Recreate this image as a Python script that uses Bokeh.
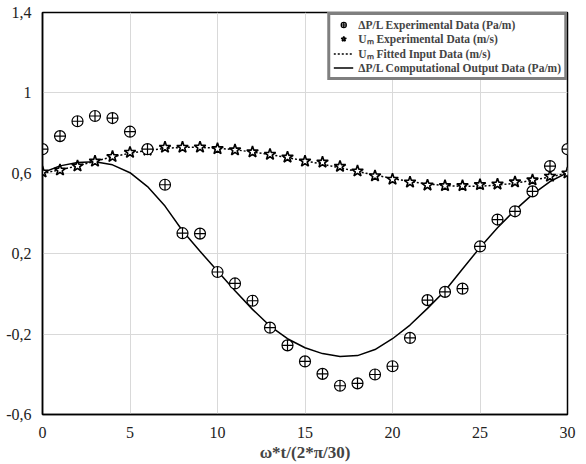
from bokeh.plotting import figure
from bokeh.models import FixedTicker, Legend, LegendItem, Range1d
from bokeh.embed import file_html
from bokeh.resources import INLINE

# ---- data ----
x_vals = list(range(0, 31))

dp_exp = [0.720, 0.785, 0.859, 0.885, 0.875, 0.807, 0.720, 0.543, 0.302, 0.300,
          0.109, 0.052, -0.034, -0.168, -0.256, -0.336, -0.398, -0.457, -0.445, -0.401,
          -0.360, -0.219, -0.031, 0.010, 0.026, 0.236, 0.370, 0.411, 0.510, 0.636, 0.720]

um_exp = [0.606, 0.616, 0.636, 0.660, 0.683, 0.704, 0.715, 0.729, 0.729, 0.730,
          0.722, 0.716, 0.706, 0.694, 0.680, 0.660, 0.655, 0.634, 0.611, 0.587,
          0.570, 0.556, 0.541, 0.538, 0.538, 0.543, 0.546, 0.557, 0.567, 0.585, 0.601]

um_fit = [0.600, 0.617, 0.637, 0.660, 0.682, 0.700, 0.714, 0.724, 0.729, 0.729,
          0.725, 0.717, 0.706, 0.693, 0.678, 0.662, 0.645, 0.627, 0.609, 0.591,
          0.574, 0.559, 0.547, 0.539, 0.535, 0.536, 0.541, 0.551, 0.565, 0.582, 0.601]

dp_comp = [0.603, 0.637, 0.654, 0.657, 0.642, 0.603, 0.534, 0.437, 0.314, 0.212,
           0.114, 0.016, -0.077, -0.160, -0.223, -0.268, -0.297, -0.311, -0.307, -0.277,
           -0.223, -0.155, -0.072, 0.016, 0.124, 0.231, 0.329, 0.417, 0.495, 0.559, 0.603]

x_ticks = [0, 5, 10, 15, 20, 25, 30]
y_ticks = [-0.6, -0.2, 0.2, 0.6, 1, 1.4]
y_tick_labels = ["-0,6", "-0,2", "0,2", "0,6", "1", "1,4"]

labels = ["\u0394P/L Experimental Data (Pa/m)",
          "U\u2098 Experimental Data (m/s)",
          "U\u2098 Fitted Input Data (m/s)",
          "\u0394P/L Computational Output Data (Pa/m)"]
x_title = "\u03c9*t/(2*\u03c0/30)"

FONT = "Liberation Serif"

p = figure(width=586, height=464, output_backend="svg", toolbar_location=None,
           x_range=Range1d(0, 30), y_range=Range1d(-0.6, 1.4),
           min_border_left=42, min_border_right=19, min_border_top=12, min_border_bottom=43)

p.background_fill_color = "white"
p.border_fill_color = "white"
p.outline_line_color = "black"
p.outline_line_width = 1.5

r_comp = p.line(x_vals, dp_comp, line_color="black", line_width=1.5)
r_fit = p.line(x_vals, um_fit, line_color="black", line_width=1.5, line_dash="2 2")
r_um = p.scatter(x_vals, um_exp, marker="star", size=12, fill_color="white",
                 line_color="black", line_width=1.6)
r_dp = p.scatter(x_vals, dp_exp, marker="circle_cross", size=11, fill_color="white",
                 line_color="black", line_width=1.2)

for ax in (p.xaxis[0], p.yaxis[0]):
    ax.axis_line_color = "black"
    ax.axis_line_width = 1.5
    ax.major_tick_line_color = None
    ax.minor_tick_line_color = None
    ax.major_label_text_font = FONT
    ax.major_label_text_font_size = "16px"
    ax.major_label_text_color = "#222222"

p.xaxis.ticker = FixedTicker(ticks=x_ticks)
p.yaxis.ticker = FixedTicker(ticks=y_ticks)
p.yaxis.major_label_overrides = {t: l for t, l in zip(y_ticks, y_tick_labels)}
p.xaxis.major_label_standoff = 6
p.yaxis.major_label_standoff = 5

p.xaxis.axis_label = x_title
p.xaxis.axis_label_text_font = FONT
p.xaxis.axis_label_text_font_style = "bold"
p.xaxis.axis_label_text_font_size = "17px"
p.xaxis.axis_label_standoff = 2

p.xgrid.ticker = FixedTicker(ticks=x_ticks)
p.ygrid.ticker = FixedTicker(ticks=y_ticks)
p.grid.grid_line_color = "#d9d9d9"
p.grid.grid_line_width = 1

legend = Legend(items=[LegendItem(label=labels[0], renderers=[r_dp]),
                       LegendItem(label=labels[1], renderers=[r_um]),
                       LegendItem(label=labels[2], renderers=[r_fit]),
                       LegendItem(label=labels[3], renderers=[r_comp])],
                location="top_right")
legend.margin = 0
legend.padding = 3
legend.spacing = 0
legend.label_height = 13
legend.glyph_height = 13
legend.glyph_width = 20
legend.label_standoff = 5
legend.label_text_font = FONT
legend.label_text_font_style = "bold"
legend.label_text_font_size = "11.5px"
legend.label_text_line_height = 1.0
legend.border_line_color = "black"
legend.border_line_width = 3
legend.background_fill_alpha = 1
p.add_layout(legend)

open("out.html", "w").write(file_html(p, INLINE))
